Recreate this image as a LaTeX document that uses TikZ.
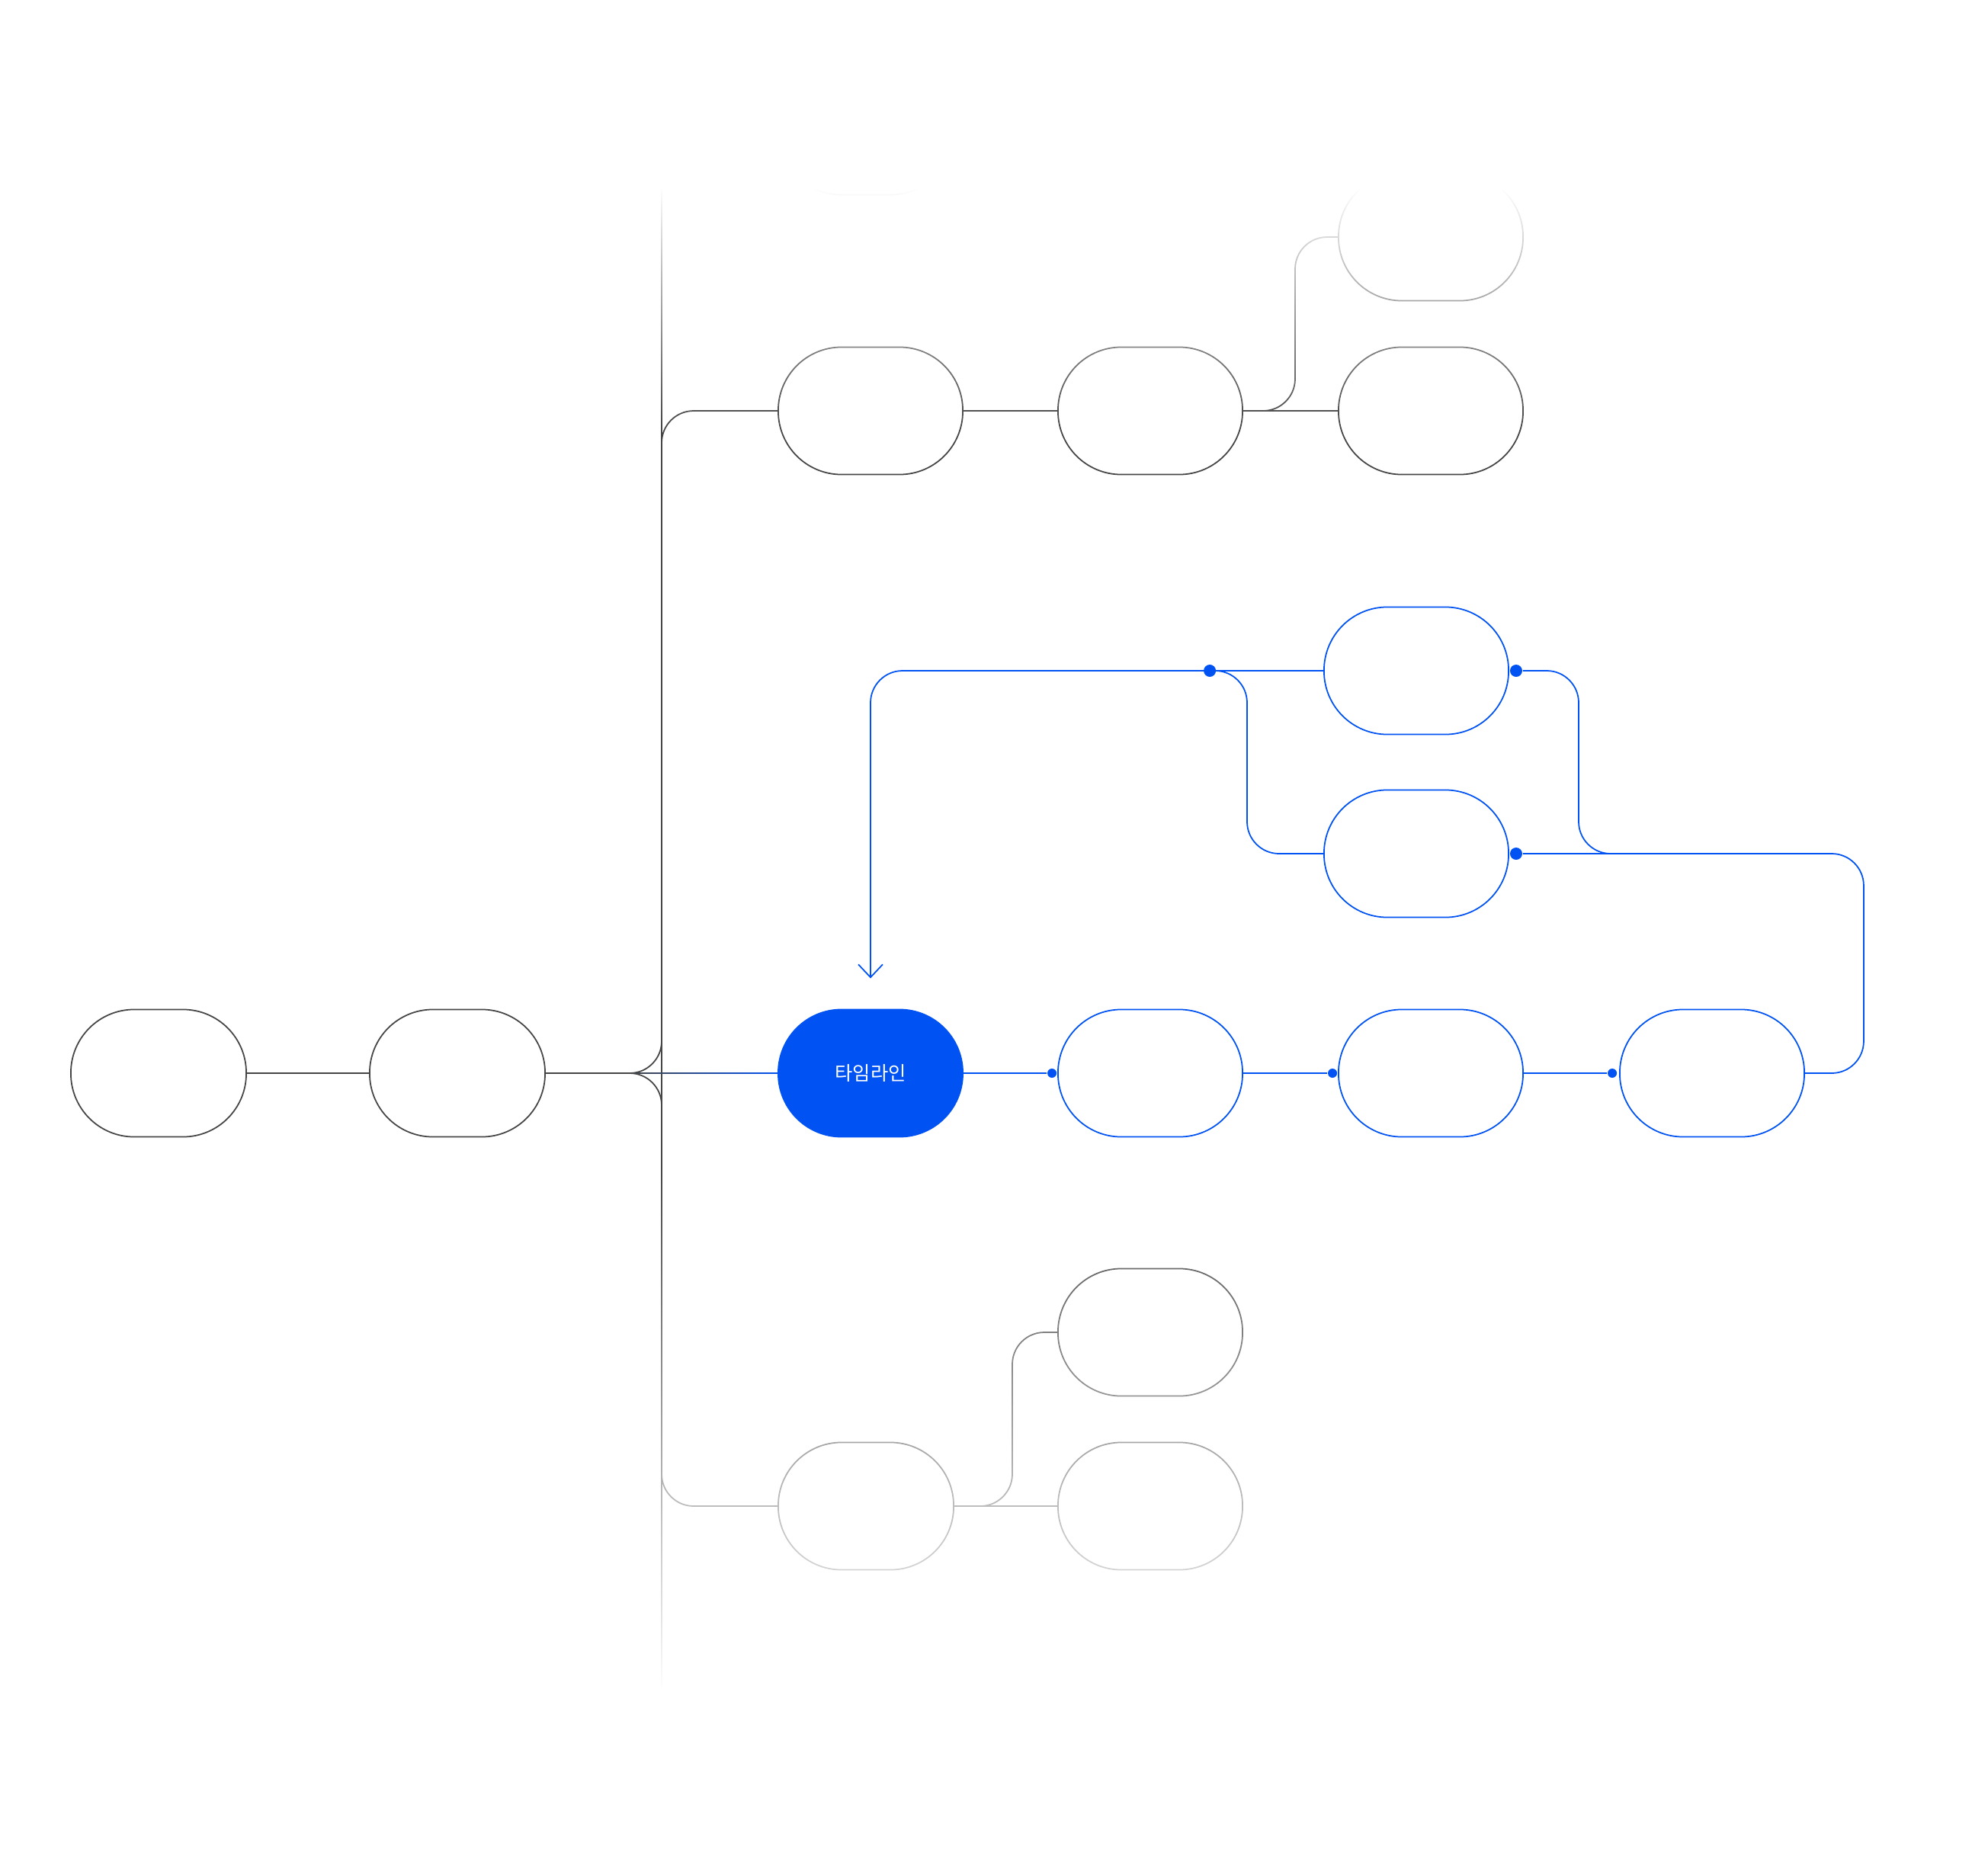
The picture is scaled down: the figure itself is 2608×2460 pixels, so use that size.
\documentclass[tikz,border=0pt]{standalone}
\usepackage{fontspec}
\usepackage{tikz}
\usetikzlibrary{arrows.meta,calc,fadings}
\newfontfamily\krfont{Noto Sans CJK KR}
\definecolor{linegray}{HTML}{454545}
\definecolor{tlblue}{HTML}{0052F2}
\tikzfading[name=fadeup, top color=transparent!0, bottom color=transparent!100]
\tikzfading[name=fadedown, top color=transparent!100, bottom color=transparent!0]
\tikzset{
	pill/.style       = {draw=linegray, rectangle, rounded corners=0.83cm,
		minimum height=1.67cm, minimum width=2.42cm, line width=0.5pt},
	pillnarrow/.style = {pill, minimum width=2.3cm},
	bluepill/.style   = {pill, draw=tlblue},
	tlpill/.style     = {pill, draw=tlblue, fill=tlblue, text=white,
		font=\krfont\fontsize{7.2pt}{9pt}\selectfont},
	grayline/.style   = {draw=linegray, line width=0.5pt, rounded corners=0.42cm},
	blueline/.style   = {draw=tlblue, line width=0.5pt, rounded corners=0.42cm},
	bigdot/.style     = {circle, fill=tlblue, inner sep=0pt, minimum size=0.16cm}, % joint
	smalldot/.style   = {circle, fill=tlblue, inner sep=0pt, minimum size=0.12cm} % input
}

\begin{document}
\begin{tikzpicture}[x=0.01cm, y=-0.01cm, line width=0.5pt, >={Straight Barb[length=0.17cm,width=0.32cm]}]
	\useasboundingbox (0,0) rectangle (2608,2460);
	\draw
	node at (208,1408) [pillnarrow] (a){}
	node at (600,1408) [pillnarrow] (b){}
	node at (1142,1408) [tlpill] (tl){타임라인}
	node at (1509,1408) [bluepill] (r1){}
	node at (1877,1408) [bluepill] (r2){}
	node at (2246,1408) [bluepill] (r3){}
	node at (1858,880) [bluepill] (u1){}
	node at (1858,1120) [bluepill] (u2){}
	node at (1136,172) [pillnarrow] (ghost){}
	node at (1142,539) [pill] (t1){}
	node at (1509,539) [pill] (t2){}
	node at (1877,539) [pill] (t3){}
	node at (1877,311) [pill] (t4){}
	node at (1136,1976) [pillnarrow] (l1){}
	node at (1509,1748) [pill] (l2){}
	node at (1509,1976) [pill] (l3){};

	\coordinate (junc) at (826,1408);
	\coordinate (trunkmid) at (868,1408);
	\coordinate (trunktop) at (868,240);
	\coordinate (trunkbot) at (868,2225);
	\coordinate (tfork) at (1699,420);
	\coordinate (lfork) at (1328,1860);

	% gray tree
	\draw[grayline](a)--(b);
	\draw[grayline](b)--(junc);
	\draw[grayline](junc)-|(trunktop);
	\draw[grayline](junc)-|(trunkbot);
	\draw[grayline](t1)-|(trunkmid);
	\draw[grayline](l1)-|(trunkmid);
	\draw[grayline](t1)--(t2);
	\draw[grayline](t2)--(t3);
	\draw[grayline](t2)-|(tfork)|-(t4);
	\draw[grayline](l1)--(l3);
	\draw[grayline](l1)-|(lfork)|-(l2);
	\shade[left color=linegray, right color=tlblue] ($(junc)+(0,-0.9)$) rectangle ($(tl.west)+(0,0.9)$);

	% blue timeline
	\draw
	node at ($(r1.west)+(-7,0)$) [smalldot] (dr1){}
	node at ($(r2.west)+(-7,0)$) [smalldot] (dr2){}
	node at ($(r3.west)+(-9,0)$) [smalldot] (dr3){}
	node at ($(u1.east)+(9,0)$) [bigdot] (du1){}
	node at ($(u2.east)+(9,0)$) [bigdot] (du2){}
	node at ($(u1.west)+(-149,0)$) [bigdot] (dl){};
	\coordinate (ufork) at (2071,1000);
	\coordinate (umerge) at (2116,1120);
	\coordinate (dfork) at (1636,1000);
	\coordinate (tip) at ($(tl.north)+(0,-40)$);

	\draw[blueline](tl)--(dr1);
	\draw[blueline](r1)--(dr2);
	\draw[blueline](r2)--(dr3);
	\draw[blueline](r3.east)--++(77,0)|-(du2);
	\draw[blueline](du1)-|(ufork)|-(umerge);
	\draw[blueline,->](u1)-|(tip);
	\draw[blueline](dl)-|(dfork)|-(u2);

	% fade out top and bottom
	\fill[white](0,0) rectangle (2608,247);
	\fill[white, path fading=fadeup](0,247) rectangle (2608,560);
	\fill[white, path fading=fadedown](0,1530) rectangle (2608,2217);
	\fill[white](0,2217) rectangle (2608,2460);
\end{tikzpicture}
\end{document}
